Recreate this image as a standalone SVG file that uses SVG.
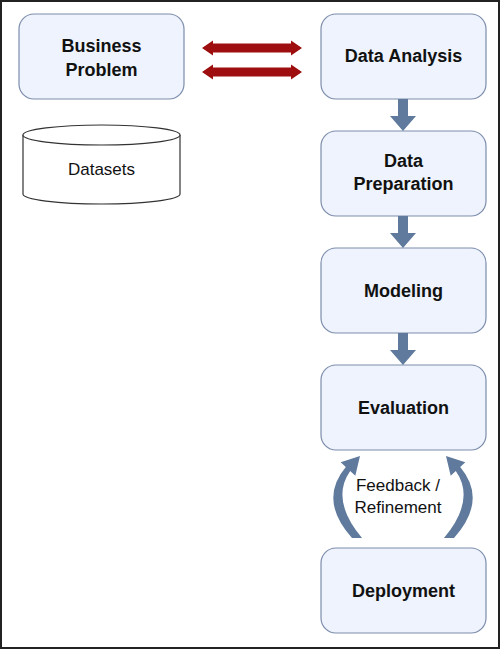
<svg xmlns="http://www.w3.org/2000/svg" width="500" height="649" viewBox="0 0 500 649">
<style>
.box{fill:#eef3fd;stroke:#7d8dac;stroke-width:1.2}
.lbl{font-family:"Liberation Sans",Arial,sans-serif;font-weight:bold;font-size:18px;fill:#111;text-anchor:middle}
.txt{font-family:"Liberation Sans",Arial,sans-serif;font-size:17px;fill:#111;text-anchor:middle}
.blue{fill:#5f7a9c}
.red{fill:#9e0e0e}
</style>
<defs>
<path id="curve" d="M 352 538 Q 318 500 345.8 467 L 340.7 462.2 L 360 456 L 355.3 475.8 L 350.2 471 Q 330 500 362 538 Z"/>
</defs>
<rect x="1" y="1" width="498" height="647" fill="#fff" stroke="#222" stroke-width="2"/>
<g id="business-problem">
<rect class="box" x="19" y="14" width="165" height="85" rx="15"/>
<text class="lbl" x="101.5" y="52">Business</text>
<text class="lbl" x="101.5" y="76">Problem</text>
</g>
<g id="datasets">
<path d="M 23 135 L 23 194 A 78.5 10 0 0 0 180 194 L 180 135" fill="#fff" stroke="#333" stroke-width="1.2"/>
<ellipse cx="101.5" cy="135" rx="78.5" ry="10" fill="#fff" stroke="#333" stroke-width="1.2"/>
<text class="txt" x="101.5" y="175">Datasets</text>
</g>
<g id="data-analysis">
<rect class="box" x="321" y="14" width="165" height="85" rx="15"/>
<text class="lbl" x="403.5" y="62">Data Analysis</text>
</g>
<g id="data-preparation">
<rect class="box" x="321" y="131" width="165" height="85" rx="15"/>
<text class="lbl" x="403.5" y="167">Data</text>
<text class="lbl" x="403.5" y="190">Preparation</text>
</g>
<g id="modeling">
<rect class="box" x="321" y="248" width="165" height="85" rx="15"/>
<text class="lbl" x="403.5" y="296.5">Modeling</text>
</g>
<g id="evaluation">
<rect class="box" x="321" y="365" width="165" height="85" rx="15"/>
<text class="lbl" x="403.5" y="413.5">Evaluation</text>
</g>
<g id="deployment">
<rect class="box" x="321" y="548" width="165" height="85" rx="15"/>
<text class="lbl" x="403.5" y="597">Deployment</text>
</g>
<g id="connectors">
<polygon class="red" points="202,48 213,40.5 213,43.5 291,43.5 291,40.5 302,48 291,55.5 291,52.5 213,52.5 213,55.5"/>
<polygon class="red" points="202,72 213,64.5 213,67.5 291,67.5 291,64.5 302,72 291,79.5 291,76.5 213,76.5 213,79.5"/>
<polygon class="blue" points="398,99 408,99 408,116 416,116 403,131 390,116 398,116"/>
<polygon class="blue" points="398,216 408,216 408,233 416,233 403,248 390,233 398,233"/>
<polygon class="blue" points="398,333 408,333 408,350 416,350 403,365 390,350 398,350"/>
<use href="#curve" class="blue"/>
<use href="#curve" class="blue" transform="matrix(-1 0 0 1 806 0)"/>
<text class="txt" x="398" y="491">Feedback /</text>
<text class="txt" x="398" y="513">Refinement</text>
</g>
</svg>
